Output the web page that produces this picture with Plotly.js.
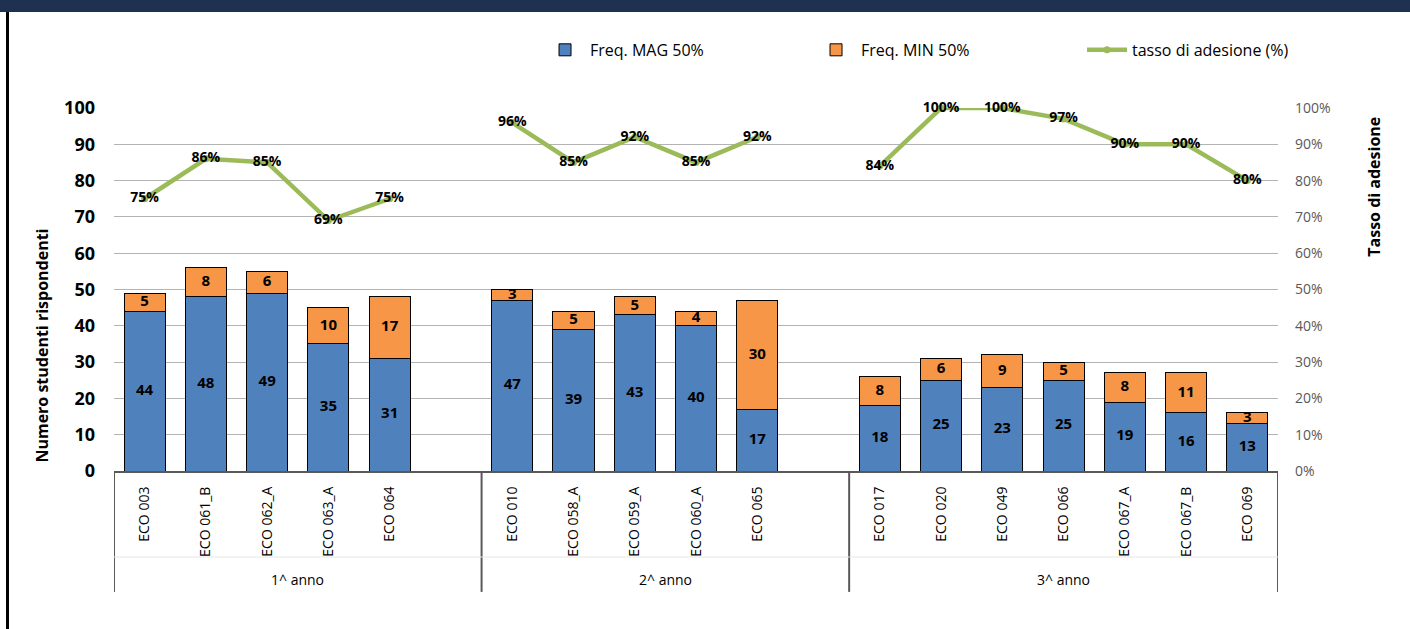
<!DOCTYPE html>
<html>
<head>
<meta charset="utf-8">
<script src="https://cdn.plot.ly/plotly-3.0.1.min.js"></script>
<style>
  html, body { margin: 0; padding: 0; background: #fff; }
  #wrap { position: relative; width: 1410px; height: 629px; overflow: hidden; }
  #chart { position: absolute; left: 0; top: 0; width: 1410px; height: 629px; }
  #band { position: absolute; left: 0; top: 0; width: 1410px; height: 12px; background: #1f3150; pointer-events: none; }
  #edge { position: absolute; left: 6px; top: 12px; width: 3px; height: 617px; background: #000; pointer-events: none; }
</style>
</head>
<body>
<div id="wrap">
  <div id="chart"></div>
  <div id="band"></div>
  <div id="edge"></div>
</div>
<script>
// ---- data ----
const categories = ["ECO 003","ECO 061_B","ECO 062_A","ECO 063_A","ECO 064","",
                    "ECO 010","ECO 058_A","ECO 059_A","ECO 060_A","ECO 065"," ",
                    "ECO 017","ECO 020","ECO 049","ECO 066","ECO 067_A","ECO 067_B","ECO 069"];
const groups = ["1^ anno","2^ anno","3^ anno"];
const groupSizes = [6, 6, 7];
const freqMag = [44,48,49,35,31,null, 47,39,43,40,17,null, 18,25,23,25,19,16,13];
const freqMin = [5,8,6,10,17,null, 3,5,5,4,30,null, 8,6,9,5,8,11,3];
const tasso   = [75,86,85,69,75,null, 96,85,92,85,92,null, 84,100,100,97,90,90,80];
const yTicks  = [0,10,20,30,40,50,60,70,80,90,100];
const leftTitle = 'Numero studenti rispondenti';
const rightTitle = 'Tasso di adesione';

// ---- build ----
const FONT = "'Open Sans', Lato, sans-serif";
const xs = categories.map((c, i) => i);
const boldLbl = { family: FONT, size: 15, color: '#000', weight: 'bold' };

const barMag = {
  type: 'bar', name: 'Freq. MAG 50%', x: xs, y: freqMag,
  marker: { color: '#4f81bd', line: { color: '#000', width: 1 } },
  width: 0.67, hoverinfo: 'none'
};
const barMin = {
  type: 'bar', name: 'Freq. MIN 50%', x: xs, y: freqMin,
  marker: { color: '#f79646', line: { color: '#000', width: 1 } },
  width: 0.67, hoverinfo: 'none'
};
const line = {
  type: 'scatter', mode: 'lines+markers', name: 'tasso di adesione (%)',
  x: xs, y: tasso.map(v => v === null ? null : v / 100), yaxis: 'y2',
  connectgaps: false, cliponaxis: false,
  line: { color: '#9bbb59', width: 4.5 },
  marker: { color: '#9bbb59', size: 7 },
  hoverinfo: 'none'
};
const lineLabels = {
  type: 'scatter', mode: 'text', showlegend: false, yaxis: 'y2', cliponaxis: false,
  x: xs, y: tasso.map(v => v === null ? null : v / 100),
  text: tasso.map(v => v === null ? '' : v + '%'),
  textposition: 'middle center',
  textfont: { family: FONT, size: 14, color: '#000', weight: 'bold' },
  hoverinfo: 'none'
};
const magLabels = {
  type: 'scatter', mode: 'text', showlegend: false, cliponaxis: false,
  x: xs, y: freqMag.map(v => v === null ? null : v / 2),
  text: freqMag.map(v => v === null ? '' : String(v)),
  textposition: 'middle center', textfont: boldLbl, hoverinfo: 'none'
};
const minLabels = {
  type: 'scatter', mode: 'text', showlegend: false, cliponaxis: false,
  x: xs, y: freqMin.map((v, i) => v === null ? null : freqMag[i] + v / 2),
  text: freqMin.map(v => v === null ? '' : String(v)),
  textposition: 'middle center', textfont: boldLbl, hoverinfo: 'none'
};

// group box lines and labels
const shapes = [];
const annotations = [];
const bounds = [-0.5];
let start = 0;
groupSizes.forEach(n => { start += n; bounds.push(start - 0.5); });
groups.forEach((g, gi) => {
  annotations.push({
    xref: 'x', yref: 'paper', x: (bounds[gi] + bounds[gi + 1]) / 2, y: -0.30,
    text: g, showarrow: false,
    font: { family: FONT, size: 14, color: '#000' },
    xanchor: 'center', yanchor: 'middle'
  });
});
bounds.forEach(b => {
  shapes.push({ type: 'line', xref: 'x', yref: 'paper', x0: b, x1: b, y0: 0, y1: -0.333,
    line: { color: '#595959', width: 2 } });
});
shapes.push({ type: 'line', xref: 'x', yref: 'paper', x0: -0.5, x1: 18.5, y0: -0.237, y1: -0.237,
  line: { color: '#e6e6e6', width: 1 } });

// axis titles placed like the reference
annotations.push({
  xref: 'paper', yref: 'paper', x: -0.062, y: 0.345, text: leftTitle, textangle: -90,
  showarrow: false, xanchor: 'center', yanchor: 'middle',
  font: { family: FONT, size: 16, color: '#000', weight: 'bold' }
});
annotations.push({
  xref: 'paper', yref: 'paper', x: 1.083, y: 0.782, text: rightTitle, textangle: -90,
  showarrow: false, xanchor: 'center', yanchor: 'middle',
  font: { family: FONT, size: 16, color: '#000', weight: 'bold' }
});

const layout = {
  width: 1410, height: 629,
  margin: { l: 114, r: 132, t: 108, b: 158 },
  paper_bgcolor: '#ffffff', plot_bgcolor: '#ffffff',
  barmode: 'stack',
  font: { family: FONT, color: '#000' },
  showlegend: true,
  legend: {
    orientation: 'h', x: 0.366, xanchor: 'left', y: 1.16, yanchor: 'middle',
    font: { family: FONT, size: 16, color: '#000' },
    entrywidth: 216, entrywidthmode: 'pixels', itemwidth: 40,
    traceorder: 'normal', bgcolor: 'rgba(0,0,0,0)'
  },
  xaxis: {
    range: [-0.5, 18.5], tickmode: 'array', tickvals: xs, ticktext: categories,
    tickangle: -90, tickfont: { family: FONT, size: 14, color: '#000' },
    showgrid: false, zeroline: false, showline: true, linecolor: '#595959', linewidth: 2,
    ticks: '', ticklabelstandoff: 8, automargin: false, fixedrange: true
  },
  yaxis: {
    range: [0, 100], tickmode: 'array', tickvals: yTicks,
    tickfont: { family: FONT, size: 18, color: '#000', weight: 'bold' },
    showgrid: true, gridcolor: '#b3b3b3', gridwidth: 1, zeroline: false,
    showline: false, ticks: '', ticklabelstandoff: 18, automargin: false,
    fixedrange: true
  },
  yaxis2: {
    overlaying: 'y', side: 'right', range: [0, 1], dtick: 0.1, tickformat: '.0%',
    tickfont: { family: FONT, size: 14, color: '#595959' },
    showgrid: false, zeroline: false, showline: false, ticks: '', ticklabelstandoff: 16,
    automargin: false, fixedrange: true
  },
  shapes: shapes,
  annotations: annotations
};

Plotly.newPlot('chart', [barMag, barMin, line, magLabels, minLabels, lineLabels], layout,
  { displayModeBar: false, staticPlot: true });
</script>
</body>
</html>
